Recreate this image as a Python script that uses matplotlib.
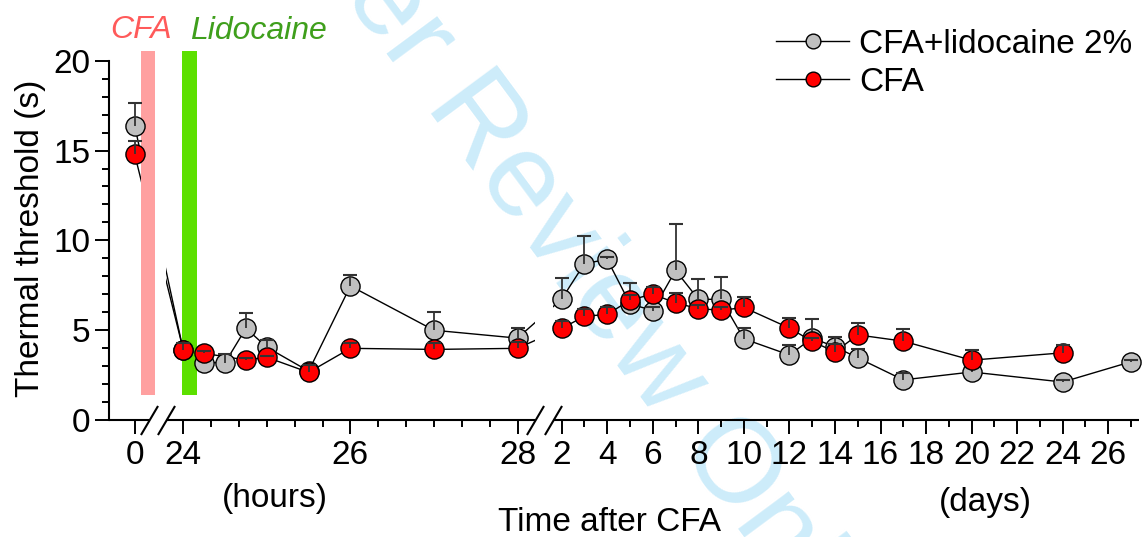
import numpy as np
import matplotlib
matplotlib.use("Agg")
import matplotlib.pyplot as plt
from matplotlib.lines import Line2D

plt.rcParams['font.family'] = ['Liberation Sans', 'DejaVu Sans']

# -----------------------------
# Data
# -----------------------------
base_time = [0]
gray_base = [16.39]
gray_base_err = [1.27]
red_base = [14.79]
red_base_err = [0.73]

# 24-28 h after CFA
gray_hours = [24, 24.25, 24.5, 24.75, 25, 25.5, 26, 27, 28]
gray_h = [3.85, 3.17, 3.17, 5.09, 4.03, 2.70, 7.45, 4.98, 4.54]
gray_h_err = [0.30, 0.20, 0.48, 0.87, 0.40, 0.20, 0.60, 1.00, 0.57]

red_hours = [24, 24.25, 24.75, 25, 25.5, 26, 27, 28]
red_h = [3.88, 3.69, 3.32, 3.47, 2.63, 3.97, 3.91, 3.97]
red_h_err = [0.40, 0.15, 0.10, 0.10, 0.40, 0.30, 0.34, 0.33]

# days after CFA
gray_days = [2, 3, 4, 5, 6, 7, 8, 9, 10, 12, 13, 14, 15, 17, 20, 24, 27]
gray_d = [6.72, 8.70, 8.93, 6.45, 6.08, 8.32, 6.71, 6.70, 4.50, 3.60, 4.54,
          4.06, 3.44, 2.21, 2.65, 2.09, 3.22]
gray_d_err = [1.15, 1.52, 0.12, 1.18, 0.20, 2.58, 1.13, 1.23, 0.58, 0.57, 1.07,
              0.52, 0.47, 0.40, 0.30, 0.10, 0.10]

red_days = [2, 3, 4, 5, 6, 7, 8, 9, 10, 12, 13, 14, 15, 17, 20, 24]
red_d = [5.08, 5.76, 5.86, 6.66, 7.00, 6.50, 6.19, 6.09, 6.25, 5.10, 4.36,
         3.77, 4.72, 4.37, 3.31, 3.72]
red_d_err = [0.42, 0.43, 0.42, 0.30, 0.37, 0.56, 0.20, 0.20, 0.60, 0.56, 0.20,
             0.44, 0.64, 0.66, 0.56, 0.45]

# tick labels
hour_ticks = [24, 26, 28]
day_ticks = list(range(2, 27, 2))

labels = ['CFA+lidocaine 2%', 'CFA']

# -----------------------------
# Broken time axis: one axes, piecewise linear scale (all times in hours)
# -----------------------------
W, H = 1145, 537
knot_h = [-1, 0, 24, 28, 48, 648]
knot_px = [108.5, 134.7, 183.3, 517.5, 561.7, 1131.0]
slope_l = (knot_px[1] - knot_px[0]) / (knot_h[1] - knot_h[0])
slope_r = (knot_px[-1] - knot_px[-2]) / (knot_h[-1] - knot_h[-2])
kx = np.r_[-1e5, knot_h, 1e5]
kp = np.r_[knot_px[0] - slope_l * (1e5 + knot_h[0]), knot_px,
           knot_px[-1] + slope_r * (1e5 - knot_h[-1])]


def fwd(x):
    return np.interp(x, kx, kp)


def inv(p):
    return np.interp(p, kp, kx)


fig = plt.figure(figsize=(W / 100, H / 100), dpi=100)
ax = fig.add_axes([108.5 / W, (H - 419.5) / H, (1139 - 108.5) / W, (419.5 - 61) / H])
ax.patch.set_visible(False)
ax.set_xscale('function', functions=(fwd, inv))
ax.set_xlim(-1, float(inv(1139)))
ax.set_ylim(0, 20)

# watermark
fig.text(475.5 / W, 1 - 174.4 / H, 'For Peer Review Only', rotation=-53.5,
         rotation_mode='anchor', ha='center', va='baseline', fontsize=86,
         color='#cdecfa', zorder=-5)

# series in hours
gx = np.r_[base_time, gray_hours, np.array(gray_days) * 24]
gy = np.r_[gray_base, gray_h, gray_d]
ge = np.r_[gray_base_err, gray_h_err, gray_d_err]
rx = np.r_[base_time, red_hours, np.array(red_days) * 24]
ry = np.r_[red_base, red_h, red_d]
re_ = np.r_[red_base_err, red_h_err, red_d_err]

ax.plot(gx, gy, color='k', lw=1.0, zorder=2)
ax.plot(rx, ry, color='k', lw=1.0, zorder=2)

# hide connecting lines inside the axis breaks
ax.axvspan(inv(148.5), inv(166), ymin=2.5 / 20, ymax=17.5 / 20, color='white', lw=0, zorder=2.2)
ax.axvspan(inv(535), inv(552.5), ymin=3 / 20, ymax=7.5 / 20, color='white', lw=0, zorder=2.2)

# treatment bars
ax.axvspan(3.1, 10.0, ymin=1.37 / 20, ymax=20.57 / 20, color='#ffa0a0', lw=0,
           zorder=2.3, clip_on=False)
ax.axvspan(23.5, 24.16, ymin=1.37 / 20, ymax=20.57 / 20, color='#5ce000', lw=0,
           zorder=2.3, clip_on=False)

for x, y, e, fc, z in [(gx, gy, ge, '#c0c0c0', 3), (rx, ry, re_, '#ff0000', 4)]:
    ax.plot(x, y, ls='none', marker='o', ms=13.8, mfc=fc, mec='k', mew=1.0,
            zorder=z, clip_on=False)
    ax.vlines(x, y, y + e, color='#333333', lw=1.3, zorder=z + 0.1)
    ax.plot(x, y + e, ls='none', marker='_', ms=10.5, mew=1.5, color='#333333',
            zorder=z + 0.1)

# axes styling
for s in ['top', 'right', 'bottom']:
    ax.spines[s].set_visible(False)
ax.spines['left'].set_linewidth(1.5)

maj_x = [0] + hour_ticks + [d * 24 for d in day_ticks]
maj_lab = ['0'] + [str(h) for h in hour_ticks] + [str(d) for d in day_ticks]
min_x = [24 + k / 3 for k in range(1, 12) if k != 6] + [d * 24 for d in range(3, 28, 2)]
ax.set_xticks(maj_x, maj_lab)
ax.set_xticks(min_x, minor=True)
ax.set_yticks([0, 5, 10, 15, 20])
ax.set_yticks(range(0, 21), minor=True)
ax.tick_params(which='major', length=10.4, width=1.4, labelsize=24, pad=2.6)
ax.tick_params(axis='x', which='major', pad=4)
ax.tick_params(which='minor', length=5, width=1.4)

# broken x axis line with slashes
tr = ax.get_xaxis_transform()
xl, xr = ax.get_xlim()
for a, b in [(xl, inv(148.5)), (inv(166), inv(535)), (inv(552.5), xr)]:
    ax.plot([a, b], [0, 0], transform=tr, color='k', lw=1.5, clip_on=False,
            solid_capstyle='butt')
ax.plot([inv(148.5), inv(166), inv(535), inv(552.5)], [0] * 4, transform=tr,
        ls='none', marker=[(-1, -1.7), (1, 1.7)], ms=20.9, mew=1.5, color='k',
        clip_on=False)

# texts
fig.text(31 / W, 1 - 238 / H, 'Thermal threshold (s)', rotation=90,
         ha='center', va='center', fontsize=24)
fig.text(275 / W, 1 - 498 / H, '(hours)', ha='center', va='center', fontsize=24)
fig.text(985 / W, 1 - 503 / H, '(days)', ha='center', va='center', fontsize=24)
fig.text(610 / W, 6 / H, 'Time after CFA', ha='center', va='baseline', fontsize=24)
fig.text(141 / W, 1 - 38 / H, 'CFA', ha='center', va='baseline', fontsize=23,
         style='italic', color='#ff5a5a')
fig.text(190 / W, 1 - 39 / H, 'Lidocaine', ha='left', va='baseline', fontsize=23,
         style='italic', color='#3f9f1c')

handles = [Line2D([], [], color='k', lw=1.0, marker='o', ms=10.6, mfc='#c0c0c0',
                  mec='k', mew=1.0),
           Line2D([], [], color='k', lw=1.0, marker='o', ms=10.6, mfc='#ff0000',
                  mec='k', mew=1.0)]
ax.legend(handles, labels, loc='upper left', bbox_to_anchor=(776 / W, 1 - 29 / H),
          bbox_transform=fig.transFigure, frameon=False, borderpad=0,
          borderaxespad=0, handlelength=2.19, handletextpad=0.3,
          labelspacing=0.2, fontsize=24)

fig.savefig('out.png', dpi=100)
